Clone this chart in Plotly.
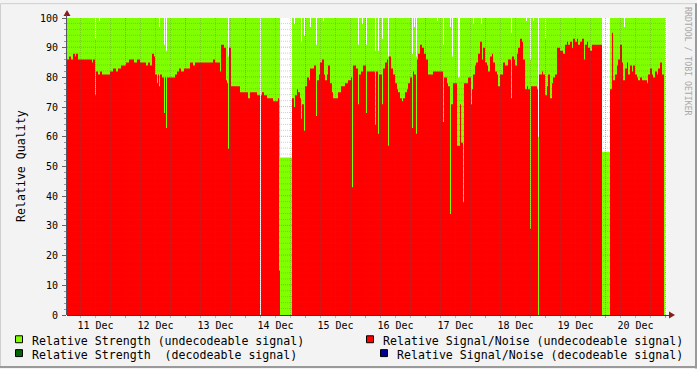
import numpy as np
import pandas as pd
import plotly.graph_objects as go

# ---------------- data ----------------
START = pd.Timestamp("2008-12-11 00:36")
STEP_MIN = 24          # one RRD row = 24 minutes
AXIS_STEPS = 600       # shown time span in rows (10 days)
DATA_END = 598         # last row with data

# Relative Signal/Noise (undecodeable signal): row index where a value starts, value
snr_step = [0, 2, 4, 6, 8, 9, 11, 25, 26, 28, 29, 31, 33, 35, 43, 46, 49, 51, 54, 59,
            62, 67, 70, 73, 79, 81, 83, 85, 87, 88, 90, 91, 92, 93, 95, 97, 98, 99, 100, 108,
            110, 112, 114, 117, 123, 126, 128, 146, 148, 153, 154, 157, 159, 160, 161, 162, 164, 173, 181, 183,
            190, 193, 194, 195, 197, 200, 206, 211, 212, 213, 225, 227, 228, 230, 231, 233, 234, 235, 237, 238,
            240, 242, 243, 247, 249, 250, 252, 253, 255, 257, 258, 260, 261, 263, 265, 266, 271, 274, 278, 281,
            284, 285, 286, 289, 291, 292, 294, 296, 299, 300, 308, 309, 311, 312, 315, 316, 318, 320, 321, 322,
            324, 326, 328, 330, 331, 333, 335, 336, 338, 340, 341, 343, 345, 346, 347, 349, 350, 351, 353, 355,
            357, 359, 361, 366, 376, 377, 380, 381, 383, 384, 386, 390, 393, 394, 396, 397, 401, 404, 405, 406,
            408, 409, 411, 413, 415, 416, 418, 420, 421, 423, 425, 426, 428, 430, 431, 433, 436, 438, 441, 444,
            445, 447, 448, 450, 451, 453, 455, 456, 458, 460, 461, 463, 464, 470, 471, 472, 475, 476, 478, 480,
            481, 483, 485, 486, 488, 490, 493, 496, 498, 500, 501, 503, 505, 506, 508, 510, 511, 513, 515, 517,
            518, 520, 521, 523, 525, 535, 543, 545, 546, 548, 550, 551, 553, 555, 556, 558, 560, 561, 563, 565,
            566, 568, 570, 571, 573, 575, 580, 581, 583, 585, 586, 588, 590, 591, 593, 595, 597]
snr_val = [86, 87, 86, 88, 87, 88, 86, 85, 86, 74, 82, 81, 82, 81, 82, 83, 82, 83, 84, 85,
           86, 85, 86, 85, 84, 85, 84, 88, 87, 81, 78, 81, 77, 81, 80, 68, 80, 63, 80, 81,
           82, 83, 82, 83, 85, 84, 85, 86, 85, 82, 91, 90, 79, 78, 56, 90, 77, 75, 73, 75,
           74, None, 74, 75, 74, 73, 72, 73, 15, None, 73, 70, 74, 76, 75, 73, 66, 71, 62, 77,
           80, 79, 83, 84, 67, 79, 81, 85, 86, 81, 79, 81, 84, 78, 75, 73, 75, 77, 78, 79,
           80, 43, 84, 83, 71, 81, 82, 84, 68, 82, 64, 82, 61, 81, 71, 83, 85, 86, 57, 87,
           83, 81, 78, 76, 75, 73, 72, 73, 75, 76, 78, 80, 63, 82, 81, 61, 86, 88, 91, 90,
           88, 86, 81, 82, 65, 80, 78, 77, 34, 71, 78, 57, 71, 58, 38, 78, 80, 71, 76, 81,
           84, 85, 88, 92, 86, 90, 85, 84, 82, 87, 88, 85, 82, 81, 77, 81, 85, 84, 86, 73,
           87, 86, 84, 88, 90, 93, 92, 86, 76, 77, 76, 29, 77, 76, None, 81, 82, 81, 74, 77,
           81, 73, 78, 80, 81, 90, 89, 88, 91, 92, 91, 92, 90, 93, 92, 93, 91, 92, 93, 86,
           91, 92, 90, 89, 91, None, 76, 95, 79, 81, 84, 86, 91, 85, 79, 83, 85, 81, 84, 82,
           84, 81, 80, 79, 80, 79, 78, 81, 83, 81, 80, 82, 81, 83, 85, 81, None]

# Relative Strength (undecodeable signal)
str_step = [0, 28, 29, 32, 33, 92, 93, 97, 98, 99, 100, 161, 162, 193, 194, 213, 225, 227, 228, 234,
            235, 237, 238, 243, 244, 249, 250, 256, 257, 291, 292, 295, 296, 299, 300, 308, 309, 311, 312, 315,
            316, 321, 322, 345, 346, 347, 348, 349, 350, 370, 371, 376, 377, 383, 384, 385, 386, 391, 393, 406,
            407, 414, 415, 444, 445, 459, 460, 463, 464, 466, 467, 471, 472, 478, 479, 535, 543, 557, 558]
str_val = [100, 93, 100, 99, 100, 97, 100, 91, 100, 89, 100, 87, 100, None, 100, 53, 100, 98, 100, 92,
           100, 94, 100, 97, 100, 91, 100, 99, 100, 91, 100, 98, 100, 91, 100, 89, 100, 89, 100, 93,
           100, 87, 100, 88, 100, 97, 100, 87, 100, 99, 100, 91, 100, 97, 100, 87, 100, 80, 100, 98,
           100, 98, 100, 95, 100, 99, 100, 86, 100, 99, 100, 60, 100, 93, 100, 55, 100, 97, 100]

# ---------------- helpers ----------------
W, H = 697, 369
L, R, T, B = 67, 30, 15, 54
PW, PH = W - L - R, H - T - B


def t_of(step):
    return START + pd.Timedelta(minutes=STEP_MIN * step)


def step_segments(starts, vals, end):
    """Split a step series into contiguous (non-missing) runs of x/y points."""
    segs, xs, ys = [], [], []
    for i, (s, v) in enumerate(zip(starts, vals)):
        e = starts[i + 1] if i + 1 < len(starts) else end
        if v is None:
            if xs:
                segs.append((xs, ys))
            xs, ys = [], []
        else:
            xs += [t_of(s), t_of(e)]
            ys += [v, v]
    if xs:
        segs.append((xs, ys))
    return segs


def px(xpix):
    return (xpix - L) / PW


def py(ypix):
    return (H - B - ypix) / PH


GREEN = "#80FF00"
RED = "#FF0000"
MONO = "DejaVu Sans Mono"

fig = go.Figure()
for sx, sy in step_segments(str_step, str_val, DATA_END):
    fig.add_trace(go.Scatter(x=sx, y=sy, mode="none", fill="tozeroy", fillcolor=GREEN,
                             hoverinfo="skip", showlegend=False))
for sx, sy in step_segments(snr_step, snr_val, DATA_END):
    fig.add_trace(go.Scatter(x=sx, y=sy, mode="none", fill="tozeroy", fillcolor=RED,
                             hoverinfo="skip", showlegend=False))

shapes = []
# grid (drawn above the data as rrdtool does); half-pixel offset keeps the dots crisp
minor_c = "rgba(90,90,90,0.28)"
major_c = "rgba(190,40,40,0.38)"
half = 0.5 / (PH / 100.0)
for v in range(2, 101, 2):
    c = major_c if v % 10 == 0 else minor_c
    shapes.append(dict(type="line", xref="paper", yref="y", x0=0, x1=1, y0=v + half, y1=v + half,
                       line=dict(color=c, width=1, dash="1px,1px"), layer="above"))
t_end = t_of(AXIS_STEPS)
for t in pd.date_range("2008-12-11 06:00", t_end, freq="6h"):
    c = major_c if t.hour == 0 else minor_c
    shapes.append(dict(type="line", xref="x", yref="paper", x0=t, x1=t, y0=0, y1=1,
                       line=dict(color=c, width=1, dash="1px,1px"), layer="above"))
    # small tick marks below the time axis
    shapes.append(dict(type="line", xref="x", yref="paper", x0=t, x1=t, y0=py(315), y1=py(318),
                       line=dict(color="rgba(190,40,40,0.5)" if t.hour == 0 else "rgba(120,120,120,0.5)",
                                 width=1), layer="above"))
# axis arrows
arrow_c = "#8B1A1A"
shapes.append(dict(type="path", xref="paper", yref="paper",
                   path=f"M {px(63.5)} {py(13)} L {px(70.5)} {py(13)} L {px(67)} {py(7)} Z",
                   fillcolor=arrow_c, line=dict(width=0), layer="above"))
shapes.append(dict(type="path", xref="paper", yref="paper",
                   path=f"M {px(669)} {py(311.5)} L {px(669)} {py(318.5)} L {px(675)} {py(315)} Z",
                   fillcolor=arrow_c, line=dict(width=0), layer="above"))
# axis lines
shapes.append(dict(type="line", xref="paper", yref="paper", x0=px(67), x1=px(669), y0=py(315.5), y1=py(315.5),
                   line=dict(color="#333366", width=1), layer="above"))
shapes.append(dict(type="line", xref="paper", yref="paper", x0=px(66.5), x1=px(66.5), y0=py(315), y1=py(12),
                   line=dict(color="#555566", width=1), layer="above"))
# outer frame
shapes.append(dict(type="line", xref="paper", yref="paper", x0=px(0.5), x1=px(696), y0=py(0.5), y1=py(0.5),
                   line=dict(color="#CFCFCF", width=1)))
shapes.append(dict(type="line", xref="paper", yref="paper", x0=px(0.5), x1=px(0.5), y0=py(0.5), y1=py(368),
                   line=dict(color="#CFCFCF", width=1)))
shapes.append(dict(type="line", xref="paper", yref="paper", x0=px(0), x1=px(697), y0=py(367.5), y1=py(367.5),
                   line=dict(color="#9A9A9A", width=2)))
shapes.append(dict(type="line", xref="paper", yref="paper", x0=px(696), x1=px(696), y0=py(0), y1=py(369),
                   line=dict(color="#9A9A9A", width=2)))

# legend
legend_items = [
    ("Relative Strength (undecodeable signal)", "#80FF00", 15, 339.5),
    ("Relative Strength  (decodeable signal)", "#006600", 15, 353.5),
    ("Relative Signal/Noise (undecodeable signal)", "#FF0000", 366, 339.5),
    ("Relative Signal/Noise (decodeable signal)", "#000099", 380, 353.5),
]
annotations = []
for text, col, xs, yc in legend_items:
    shapes.append(dict(type="rect", xref="paper", yref="paper",
                       x0=px(xs + 0.5), x1=px(xs + 7.5), y0=py(yc - 3.5), y1=py(yc + 3.5),
                       fillcolor=col, line=dict(color="#000000", width=1)))
    annotations.append(dict(text=text, xref="paper", yref="paper", x=px(xs + 15), y=py(yc + 1.5),
                            xanchor="left", yanchor="middle", showarrow=False,
                            font=dict(family=MONO, size=11.6, color="#000000")))

annotations.append(dict(text="Relative Quality", xref="paper", yref="paper", x=px(20.5), y=py(165),
                        textangle=-90, xanchor="center", yanchor="middle", showarrow=False,
                        font=dict(family=MONO, size=11.6, color="#000000")))
annotations.append(dict(text="RRDTOOL / TOBI OETIKER", xref="paper", yref="paper", x=px(688.5), y=py(59),
                        textangle=90, xanchor="center", yanchor="middle", showarrow=False,
                        font=dict(family=MONO, size=8.2, color="#A8A8A8")))

day_ticks = pd.date_range("2008-12-11 12:00", periods=10, freq="D")

fig.update_layout(
    width=W, height=H,
    margin=dict(l=L, r=R, t=T, b=B, pad=0),
    paper_bgcolor="#F3F3F3", plot_bgcolor="#FFFFFF",
    showlegend=False,
    shapes=shapes, annotations=annotations,
    xaxis=dict(range=[START, t_end], tickvals=list(day_ticks),
               ticktext=[d.strftime("%d %b") for d in day_ticks],
               showgrid=False, zeroline=False, showline=False,
               ticks="", tickfont=dict(family=MONO, size=10, color="#000000"),
               ticklabelstandoff=3),
    yaxis=dict(range=[0, 100], tickvals=list(range(0, 101, 10)),
               showgrid=False, zeroline=False, showline=False,
               ticks="outside", ticklen=4, tickcolor="#666666",
               minor=dict(dtick=2, ticks="outside", ticklen=2, tickcolor="#999999", showgrid=False),
               tickfont=dict(family=MONO, size=10, color="#000000"),
               ticklabelstandoff=2),
)

fig.write_html("out.html")
